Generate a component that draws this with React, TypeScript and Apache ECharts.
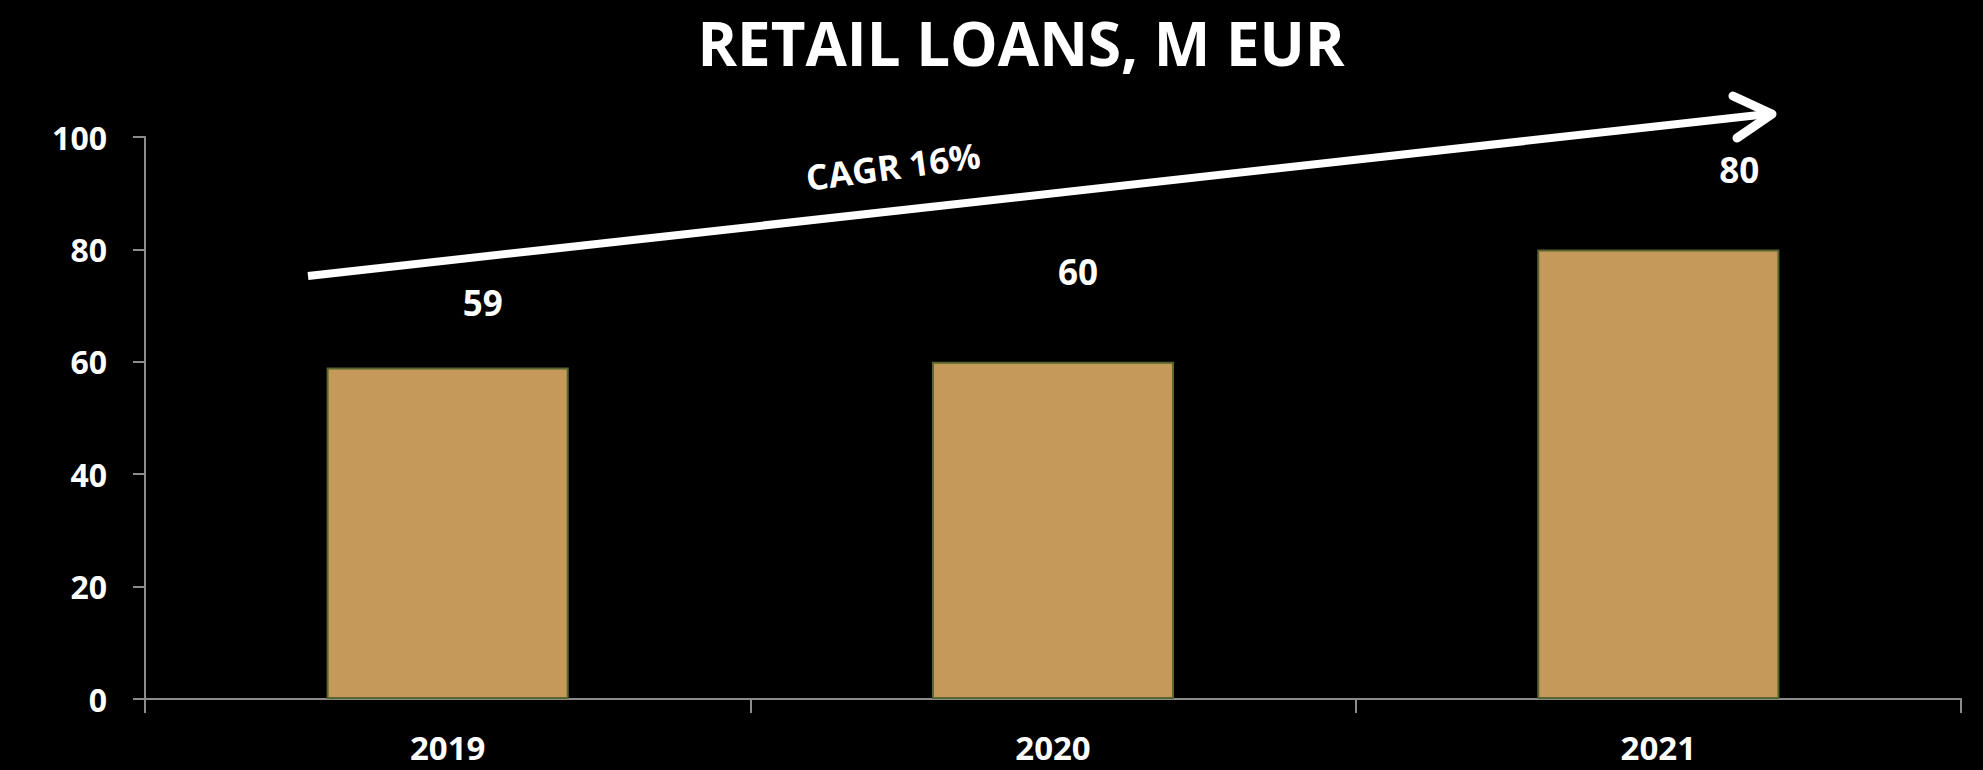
import React, { useEffect, useRef } from "react";
import * as echarts from "echarts";

const titleText = "RETAIL LOANS, M EUR";
const categories = ["2019", "2020", "2021"];
const values = [59, 60, 80];
const annotationText = "CAGR 16%";
const yMin = 0;
const yMax = 100;
const yStep = 20;

// layout-only: pixel offsets of each value label from its default "top" spot
const labelOffsets = [
  [35, -42],
  [25, -68],
  [81, -57],
];

const FONT = "'Open Sans', 'Liberation Sans', sans-serif";

export default function App() {
  const ref = useRef<HTMLDivElement>(null);

  useEffect(() => {
    if (!ref.current) return;
    const chart = echarts.init(ref.current, undefined, { renderer: "svg" });
    const deg = (d: number) => (d * Math.PI) / 180;
    chart.setOption({
      animation: false,
      backgroundColor: "#000000",
      title: {
        text: titleText,
        left: 1016,
        top: 8,
        textAlign: "center",
        textStyle: {
          color: "#ffffff",
          fontFamily: FONT,
          fontWeight: "bold",
          fontSize: 60,
        },
      },
      grid: { left: 145, right: 22, top: 137, bottom: 71, containLabel: false },
      xAxis: {
        type: "category",
        data: categories,
        axisLine: { show: true, lineStyle: { color: "#8c8c8c", width: 2 } },
        axisTick: { show: true, length: 14, lineStyle: { color: "#8c8c8c", width: 2 } },
        axisLabel: {
          color: "#ffffff",
          fontFamily: FONT,
          fontWeight: "bold",
          fontSize: 33,
          margin: 32,
        },
        splitLine: { show: false },
      },
      yAxis: {
        type: "value",
        min: yMin,
        max: yMax,
        interval: yStep,
        axisLine: { show: true, lineStyle: { color: "#8c8c8c", width: 2 } },
        axisTick: { show: true, length: 12, lineStyle: { color: "#8c8c8c", width: 2 } },
        axisLabel: {
          color: "#ffffff",
          fontFamily: FONT,
          fontWeight: "bold",
          fontSize: 32,
          margin: 38,
        },
        splitLine: { show: false },
      },
      series: [
        {
          type: "bar",
          barWidth: "40%",
          data: values.map((v, i) => ({
            value: v,
            label: { offset: labelOffsets[i] },
          })),
          itemStyle: {
            color: "#C4995A",
            borderColor: "#56662E",
            borderWidth: 2,
          },
          label: {
            show: true,
            position: "top",
            color: "#ffffff",
            fontFamily: FONT,
            fontWeight: "bold",
            fontSize: 35,
          },
        },
      ],
      graphic: [
        {
          type: "line",
          shape: { x1: 308, y1: 276, x2: 1768, y2: 114 },
          style: { stroke: "#ffffff", lineWidth: 8, lineCap: "butt" },
          z: 10,
        },
        {
          type: "polyline",
          shape: {
            points: [
              [1733, 96],
              [1772, 114],
              [1737, 138],
            ],
          },
          style: { stroke: "#ffffff", lineWidth: 9, lineCap: "round", lineJoin: "round", fill: "none" },
          z: 10,
        },
        {
          type: "text",
          x: 893,
          y: 166,
          rotation: deg(7.5),
          style: {
            text: annotationText,
            fill: "#ffffff",
            font: `bold 35px ${FONT}`,
            textAlign: "center",
            textVerticalAlign: "middle",
          },
          z: 10,
        },
      ],
    });
    return () => chart.dispose();
  }, []);

  return (
    <div
      ref={ref}
      style={{
        position: "fixed",
        left: 0,
        top: 0,
        width: 1983,
        height: 770,
        background: "#000000",
      }}
    />
  );
}
